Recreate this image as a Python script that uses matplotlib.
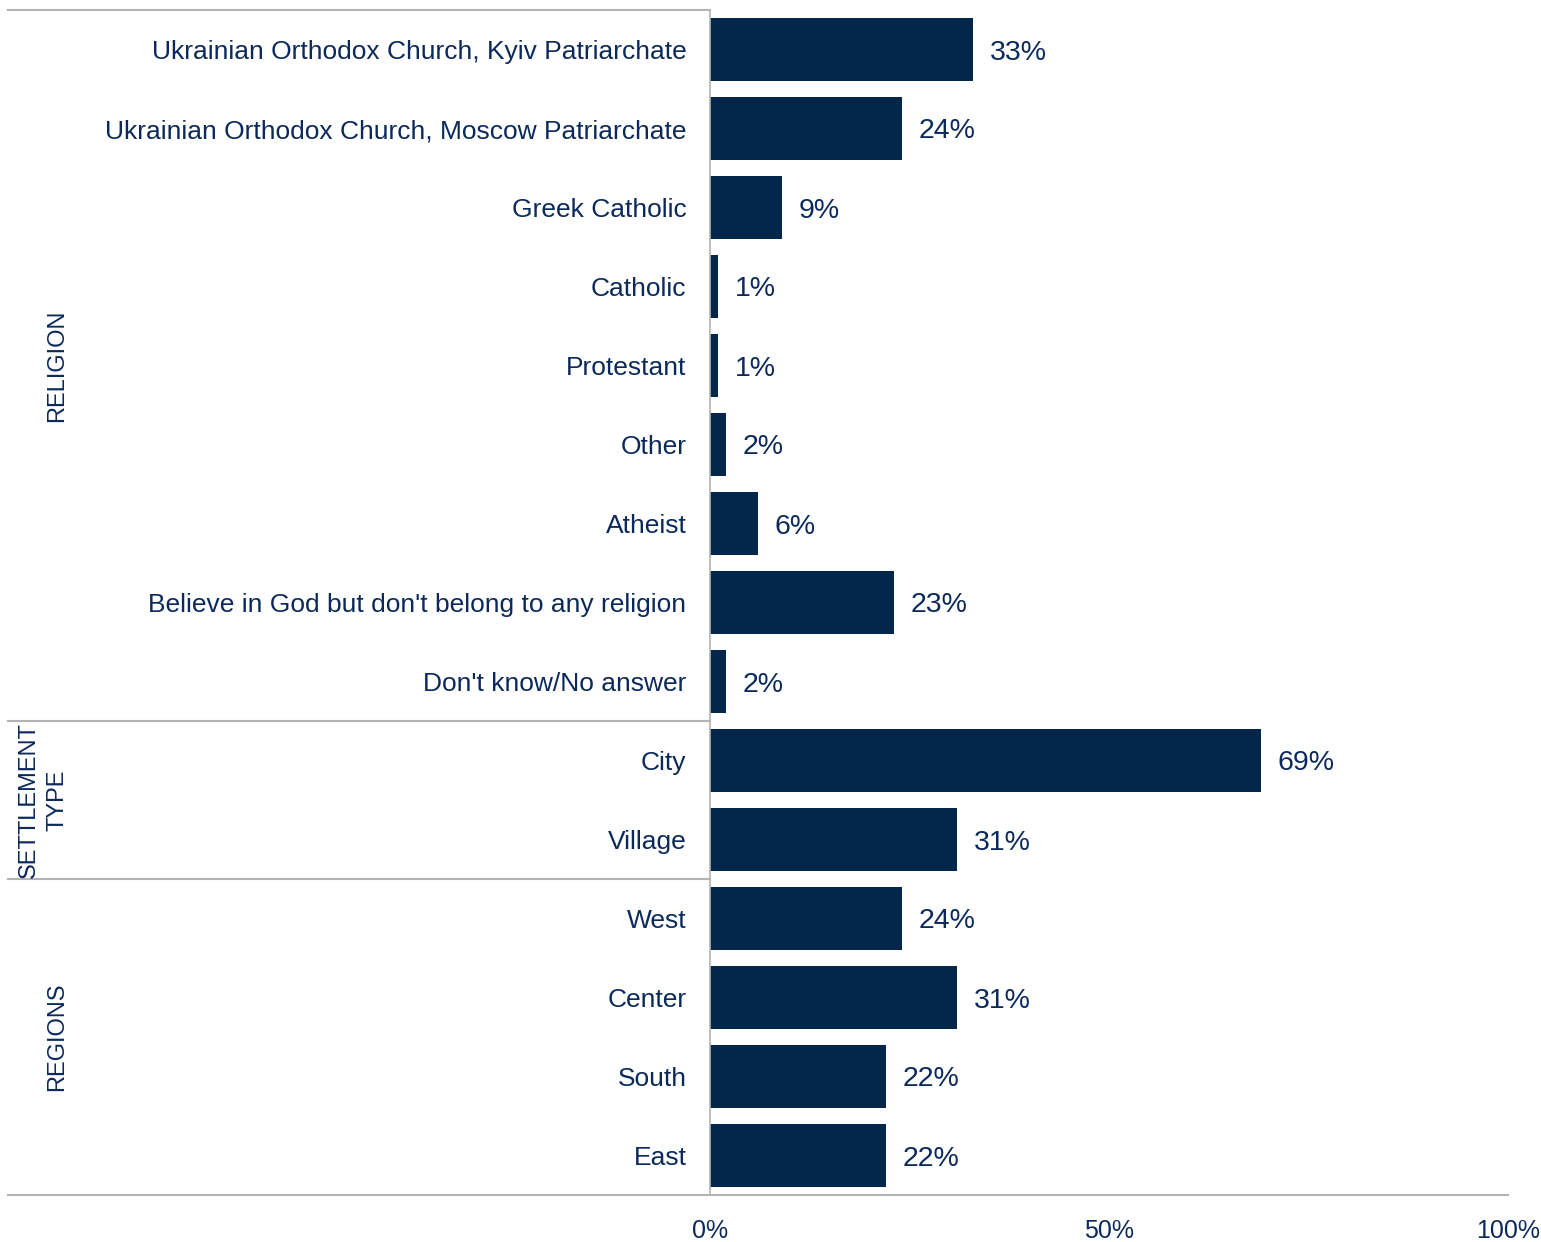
import matplotlib
matplotlib.use("Agg")
import matplotlib.pyplot as plt

categories = ["Ukrainian Orthodox Church, Kyiv Patriarchate",
              "Ukrainian Orthodox Church, Moscow Patriarchate",
              "Greek Catholic", "Catholic", "Protestant", "Other", "Atheist",
              "Believe in God but don't belong to any religion",
              "Don't know/No answer", "City", "Village",
              "West", "Center", "South", "East"]
values = [33, 24, 9, 1, 1, 2, 6, 23, 2, 69, 31, 24, 31, 22, 22]
groups = ["RELIGION", "SETTLEMENT\nTYPE", "REGIONS"]
group_rows = [(0, 8), (9, 10), (11, 14)]
xticks = [0, 50, 100]

plt.rcParams["font.family"] = ["Liberation Sans", "DejaVu Sans"]

bar_c = "#02274a"
text_c = "#0b2a5b"
line_c = "#b4b4b4"

fig = plt.figure(figsize=(15.41, 12.42), dpi=100)
ax = fig.add_axes([710/1541, 47/1242, 798/1541, 1185/1242])

y = list(range(len(categories)))
ax.barh(y, values, height=0.8, color=bar_c)
for yi, v in zip(y, values):
    ax.text(v + 2.1, yi, f"{v}%", va="center_baseline", ha="left", fontsize=20.5, color=text_c)

ax.set_xlim(0, 100)
ax.set_ylim(14.5, -0.5)
ax.set_yticks(y)
ax.set_yticklabels(categories, fontsize=19, color=text_c)
ax.set_xticks(xticks)
ax.set_xticklabels([f"{t}%" for t in xticks], fontsize=18, color=text_c)
ax.tick_params(axis="y", length=0, pad=17)
ax.tick_params(axis="x", length=0, pad=17)
for s in ax.spines.values():
    s.set_visible(False)

# separator lines
tr = ax.get_yaxis_transform()
x0 = (8 - 710) / 798
for yl in [-0.5, 8.5, 10.5]:
    ax.plot([x0, 0], [yl, yl], transform=tr, color=line_c, lw=1.5, clip_on=False)
ax.plot([x0, 1], [14.5, 14.5], transform=tr, color=line_c, lw=1.5, clip_on=False)
ax.plot([0, 0], [-0.5, 14.5], transform=tr, color=line_c, lw=1.2, clip_on=False)

gx = [(57 - 710) / 798, (43 - 710) / 798, (57 - 710) / 798]
for g, (a, b), xg in zip(groups, group_rows, gx):
    ax.text(xg, (a + b) / 2, g, transform=tr, rotation=90, ha="center", va="center",
            multialignment="center", fontsize=17, color=text_c, linespacing=1.4)

plt.savefig("out.png", dpi=100)
